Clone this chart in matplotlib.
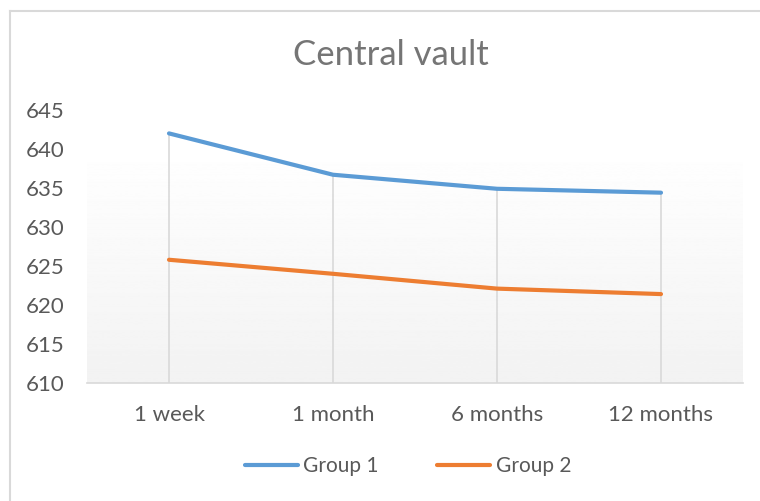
import numpy as np
import matplotlib.pyplot as plt
from matplotlib.lines import Line2D

categories = ['1 week', '1 month', '6 months', '12 months']
group1 = [642.0, 636.7, 634.9, 634.4]
group2 = [625.8, 624.0, 622.1, 621.4]
y_ticks = [610, 615, 620, 625, 630, 635, 640, 645]

blue = '#5B9BD5'
orange = '#ED7D31'
text_gray = '#595959'
grid_gray = '#D9D9D9'

plt.rcParams['font.family'] = ['Lato', 'DejaVu Sans']

fig = plt.figure(figsize=(7.6, 5.01), dpi=100)
ax = fig.add_axes([87 / 760, 1 - 383 / 501, (743 - 87) / 760, 273 / 501])

x = np.arange(len(categories))

# plot area gradient (white at top, light gray at bottom)
grad = np.linspace(0.95, 1.0, 256).reshape(-1, 1)
ax.imshow(grad, cmap='gray', vmin=0, vmax=1, aspect='auto',
          extent=(0, 1, 0, 0.872), origin='lower',
          transform=ax.transAxes, zorder=0)

# drop lines from the highest point down to the axis
tops = np.maximum(group1, group2)
ax.vlines(x, 610, tops, color=grid_gray, lw=1.2, zorder=1)

ax.plot(x, group1, color=blue, lw=3, solid_capstyle='round', zorder=3, label='Group 1')
ax.plot(x, group2, color=orange, lw=3, solid_capstyle='round', zorder=3, label='Group 2')

ax.set_xlim(-0.5, len(categories) - 0.5)
ax.set_ylim(610, 645)
ax.set_yticks(y_ticks)
ax.set_xticks(x)
ax.set_xticklabels(categories)
ax.tick_params(length=0, labelsize=16, colors=text_gray)
ax.tick_params(axis='y', pad=16)
ax.tick_params(axis='x', pad=16)

for s in ['top', 'right', 'left']:
    ax.spines[s].set_visible(False)
ax.spines['bottom'].set_color(grid_gray)
ax.spines['bottom'].set_linewidth(1.2)

fig.text(391 / 760, 1 - 55 / 501, 'Central vault', ha='center', va='center',
         fontsize=25, color='#757575')

handles = [Line2D([], [], color=blue, lw=3, solid_capstyle='round'),
           Line2D([], [], color=orange, lw=3, solid_capstyle='round')]
fig.legend(handles, ['Group 1', 'Group 2'], loc='center',
           bbox_to_anchor=(408 / 760, 1 - 466 / 501), ncol=2, frameon=False,
           fontsize=15, labelcolor=text_gray, handlelength=2.55,
           handletextpad=0.25, columnspacing=2.8)

# chart border
fig.add_artist(Line2D([10 / 760, 10 / 760], [0, 1 - 11 / 501],
                      transform=fig.transFigure, color=grid_gray, lw=1.5))
fig.add_artist(Line2D([10 / 760, 1], [1 - 11 / 501, 1 - 11 / 501],
                      transform=fig.transFigure, color=grid_gray, lw=1.5))

fig.savefig('out.png', dpi=100)
